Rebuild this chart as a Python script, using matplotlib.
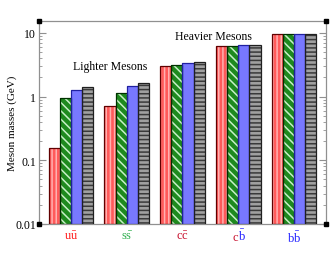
import matplotlib
matplotlib.use("Agg")
import matplotlib.pyplot as plt
import matplotlib.transforms as mtransforms
import numpy as np
from matplotlib.ticker import LogLocator, FixedFormatter, FixedLocator, NullFormatter

plt.rcParams['font.family'] = ['Liberation Serif', 'DejaVu Serif']
plt.rcParams['hatch.linewidth'] = 1.1
plt.rcParams['mathtext.fontset'] = 'custom'
plt.rcParams['mathtext.rm'] = 'Liberation Serif'

categories = [r'u$\bar{\rm u}$', r's$\bar{\rm s}$', r'c$\bar{\rm c}$', r'c$\bar{\rm b}$', r'b$\bar{\rm b}$']
series1 = [0.145, 0.71, 2.99, 6.20, 9.46]
series2 = [0.955, 1.13, 3.16, 6.26, 9.46]
series3 = [1.24, 1.45, 3.36, 6.45, 9.46]
series4 = [1.40, 1.62, 3.45, 6.45, 9.46]
ytick_vals = [0.01, 0.1, 1, 10]
ytick_labels = ['0.01', '0.1', '1', '10']

fig = plt.figure(figsize=(3.3, 2.55), dpi=100)
ax = fig.add_axes([38.7/330, 1 - 225/255, (326 - 38.7)/330, (225 - 22)/255])

x = np.arange(1, 6)
w = 0.2
styles = [
    dict(face='#ff5a5a', hatch='||||', hc='#ffb0b0', edge='#600000'),
    dict(face='#1e8a1e', hatch='\\\\\\\\', hc='#c8f0c8', edge='#003000'),
    dict(face='#7878ff', hatch=None, hc='#7878ff', edge='#2020a0'),
    dict(face='#a0a0a0', hatch='----', hc='#3a3a3a', edge='#202020'),
]
for i, (vals, st) in enumerate(zip([series1, series2, series3, series4], styles)):
    pos = x - 1.5 * w + i * w
    ax.bar(pos, vals, width=w, bottom=0.01, color=st['face'], hatch=st['hatch'],
           edgecolor=st['hc'], linewidth=0, zorder=2)
    ax.bar(pos, vals, width=w, bottom=0.01, fill=False, edgecolor=st['edge'],
           linewidth=0.9, zorder=3)

ax.set_yscale('log')
ax.set_ylim(0.01, 15.4)
ax.set_xlim(0.42, 5.575)

ax.yaxis.set_major_locator(FixedLocator(ytick_vals))
ax.yaxis.set_major_formatter(FixedFormatter(ytick_labels))
ax.yaxis.set_minor_locator(LogLocator(base=10, subs=np.arange(2, 10)))
ax.yaxis.set_minor_formatter(NullFormatter())
ax.tick_params(axis='y', which='both', direction='in', left=True, right=True,
               color='#909090', labelsize=8.5, pad=2)
ax.tick_params(axis='y', which='major', length=5, width=0.8)
ax.tick_params(axis='y', which='minor', length=2.5, width=0.6)

ax.set_xticks(x)
tick_texts = list(categories)
tick_texts[3] = ''
ax.set_xticklabels(tick_texts)
ax.tick_params(axis='x', which='both', length=0, labelsize=9, pad=4)
label_colors = ['#ff1a1a', '#30b050', '#c8102e', '#6040c0', '#2020ff']
for lbl, c in zip(ax.get_xticklabels(), label_colors):
    lbl.set_color(c)

# two-coloured label for the c-bbar group
trans = mtransforms.blended_transform_factory(ax.transData, ax.transAxes)
off = mtransforms.offset_copy(trans, fig=fig, y=-11.3, units='points')
part_c, part_b = categories[3].split('$', 1)
ax.text(x[3], 0, part_c, transform=off, ha='right', va='baseline', fontsize=9, color='#c8102e')
ax.text(x[3], 0, '$' + part_b, transform=off, ha='left', va='baseline', fontsize=9, color='#2020ff')

for s in ax.spines.values():
    s.set_color('#909090')
    s.set_linewidth(0.9)

ax.set_ylabel('Meson masses (GeV)', fontsize=8)
ax.yaxis.set_label_coords(-22/287, 0.5)

ax.text(1.70, 3.0, 'Lighter Mesons', fontsize=8.5, ha='center', va='center')
ax.text(3.55, 9.0, 'Heavier Mesons', fontsize=8.5, ha='center', va='center')

# corner markers
for cx, cy in [(0, 0), (0, 1), (1, 0), (1, 1)]:
    ax.plot([cx], [cy], marker='s', ms=2.5, color='black', transform=ax.transAxes,
            clip_on=False, zorder=5)

fig.savefig('out.png', dpi=100)
